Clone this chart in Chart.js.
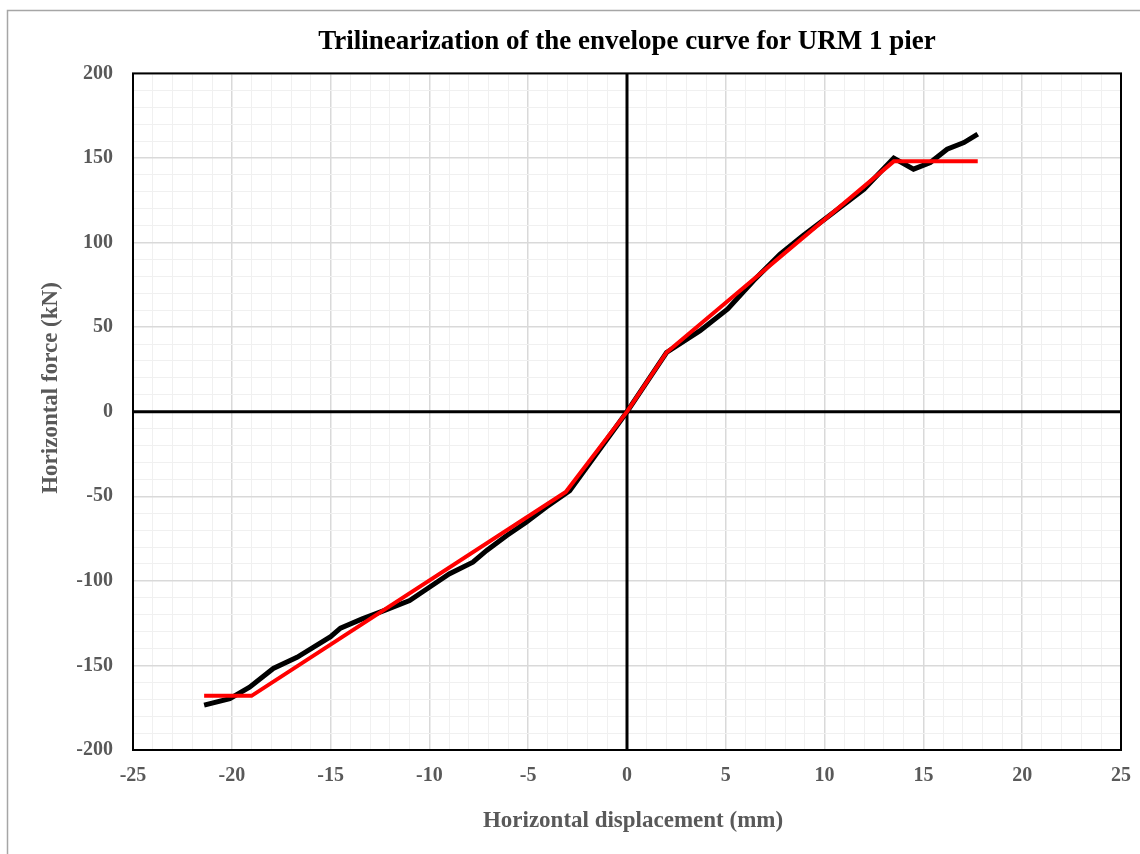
<!DOCTYPE html>
<html>
<head>
<meta charset="utf-8">
<script src="https://cdn.jsdelivr.net/npm/chart.js@4"></script>
<style>
  html, body { margin: 0; padding: 0; background: #fff; overflow: hidden; }
  #wrap { width: 1140px; height: 854px; position: relative; }
  canvas { display: block; }
</style>
</head>
<body>
<div id="wrap"><canvas id="pierChart"></canvas></div>
<script>
// envelope curve (experimental)
const envX = [-21.4, -20.1, -19.1, -17.9, -16.7, -15.0, -14.5, -13.4, -12.3, -11.0, -10.0, -9.0, -7.8, -7.1, -6.1, -5.1, -4.1, -2.9, 0, 2.0, 3.7, 5.1, 6.4, 7.75, 8.9, 10.45, 12.0, 13.5, 14.5, 15.35, 16.2, 17.05, 17.75];
const envY = [-173.5, -169.6, -162.9, -151.8, -145.2, -133, -128, -122.5, -117.6, -111.7, -103.8, -95.9, -89, -82, -73.3, -65.4, -56.5, -46.7, 0, 35, 47.9, 60.7, 77.4, 93.2, 104, 117.8, 131.6, 149.9, 143.4, 147.3, 155.2, 159.1, 164.1];

// trilinear approximation
const triX = [-21.4, -19.0, -3.1, 0, 2.0, 13.5, 17.75];
const triY = [-168, -168, -47.5, 0, 35, 148, 148];

const xMin = -25, xMax = 25, yMin = -200, yMax = 200;
const xTitle = 'Horizontal displacement (mm)';
const yTitle = 'Horizontal force (kN)';

const toPoints = (xs, ys) => xs.map((x, i) => ({ x: x, y: ys[i] }));

const serif = "'Liberation Serif', 'Times New Roman', serif";
const axisGrey = '#595959';

function gridColor(ctx, major) {
    return ctx.tick.value % major === 0 ? '#d9d9d9' : '#f0f0f0';
}
function gridWidth(ctx, major) {
    return ctx.tick.value % major === 0 ? 1.5 : 1;
}

const framePlugin = {
    id: 'frame',
    beforeDraw(chart) {
        const c = chart.ctx;
        c.save();
        c.fillStyle = '#ffffff';
        c.fillRect(0, 0, chart.width, chart.height);
        c.strokeStyle = '#a6a6a6';
        c.lineWidth = 1.5;
        c.strokeRect(7.5, 10.5, 2000, 2000);
        c.restore();
    },
    beforeDatasetsDraw(chart) {
        // zero axes on top of the grid
        const a = chart.chartArea;
        const x0 = chart.scales.x.getPixelForValue(0);
        const y0 = chart.scales.y.getPixelForValue(0);
        const c = chart.ctx;
        c.save();
        c.strokeStyle = '#000000';
        c.lineWidth = 3;
        c.beginPath();
        c.moveTo(x0, a.top);
        c.lineTo(x0, a.bottom);
        c.moveTo(a.left, y0);
        c.lineTo(a.right, y0);
        c.stroke();
        c.restore();
    },
    afterDatasetsDraw(chart) {
        const a = chart.chartArea;
        const c = chart.ctx;
        c.save();
        c.strokeStyle = '#000000';
        c.lineWidth = 2;
        c.strokeRect(a.left, a.top, a.right - a.left, a.bottom - a.top);
        // axis titles
        c.fillStyle = axisGrey;
        c.font = "bold 23px " + serif;
        c.textAlign = 'center';
        c.textBaseline = 'middle';
        c.fillText(xTitle, 633, 821);
        c.translate(51, 388);
        c.rotate(-Math.PI / 2);
        c.fillText(yTitle, 0, 0);
        c.restore();
    }
};

new Chart(document.getElementById('pierChart'), {
    type: 'scatter',
    data: {
        datasets: [
            {
                label: 'Trilinear',
                data: toPoints(triX, triY),
                showLine: true,
                borderColor: '#ff0000',
                borderWidth: 4,
                pointRadius: 0,
                order: 0
            },
            {
                label: 'Envelope',
                data: toPoints(envX, envY),
                showLine: true,
                borderColor: '#000000',
                borderWidth: 5,
                pointRadius: 0,
                order: 1
            }
        ]
    },
    options: {
        responsive: true,
        maintainAspectRatio: false,
        animation: false,
        layout: { padding: { left: 0, right: 19, top: 0, bottom: 0 } },
        scales: {
            x: {
                type: 'linear',
                min: xMin,
                max: xMax,
                afterFit: (s) => { s.height = 104; s.paddingLeft = 0; s.paddingRight = 0; },
                ticks: {
                    stepSize: 1,
                    autoSkip: false,
                    maxRotation: 0,
                    padding: 14,
                    color: axisGrey,
                    font: { family: serif, size: 20, weight: 'bold' },
                    callback: (v) => (v % 5 === 0 ? v : '')
                },
                grid: {
                    drawTicks: false,
                    color: (ctx) => gridColor(ctx, 5),
                    lineWidth: (ctx) => gridWidth(ctx, 5)
                },
                border: { display: false }
            },
            y: {
                type: 'linear',
                min: yMin,
                max: yMax,
                afterFit: (s) => { s.width = 133; s.paddingTop = 0; s.paddingBottom = 0; },
                ticks: {
                    stepSize: 10,
                    autoSkip: false,
                    padding: 20,
                    color: axisGrey,
                    font: { family: serif, size: 20, weight: 'bold' },
                    callback: (v) => (v % 50 === 0 ? v : '')
                },
                grid: {
                    drawTicks: false,
                    color: (ctx) => gridColor(ctx, 50),
                    lineWidth: (ctx) => gridWidth(ctx, 50)
                },
                border: { display: false }
            }
        },
        plugins: {
            legend: { display: false },
            tooltip: { enabled: false },
            title: {
                display: true,
                fullSize: false,
                text: 'Trilinearization of the envelope curve for URM 1 pier',
                color: '#000000',
                font: { family: serif, size: 27, weight: 'bold' },
                padding: { top: 26, bottom: 15 }
            }
        }
    },
    plugins: [framePlugin]
});
</script>
</body>
</html>
